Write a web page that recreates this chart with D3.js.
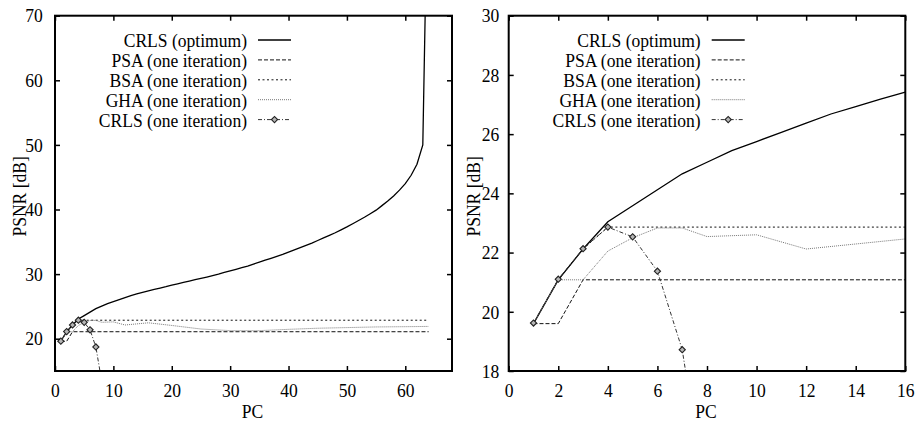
<!DOCTYPE html>
<html>
<head>
<meta charset="utf-8">
<script src="https://cdn.jsdelivr.net/npm/d3@7/dist/d3.min.js"></script>
<style>
body { margin: 0; background: #fff; }
svg text { font-family: "Liberation Serif", "Times New Roman", serif; font-size: 19.5px; fill: #000; }
</style>
</head>
<body>
<svg id="chart" width="917" height="421"></svg>
<script>
// PSNR vs number of principal components
const optPC = [1,2,3,4,5,6,7,8,9,10,11,12,13,14,15,16,17,18,19,20,21,22,23,24,25,26,27,28,29,30,31,32,
               33,34,35,36,37,38,39,40,41,42,43,44,45,46,47,48,49,50,51,52,53,54,55,56,57,58,59,60,61,62,63,64];
const optPSNR = [19.6,21.08,22.12,23.04,23.58,24.12,24.66,25.05,25.44,25.75,26.06,26.37,26.68,26.93,27.18,27.42,
                 27.63,27.84,28.05,28.3,28.5,28.72,28.93,29.13,29.33,29.55,29.78,30.0,30.25,30.5,30.75,31.0,
                 31.25,31.55,31.85,32.15,32.45,32.75,33.05,33.4,33.75,34.1,34.45,34.8,35.2,35.6,36.0,36.4,
                 36.85,37.3,37.8,38.3,38.8,39.35,39.9,40.6,41.3,42.1,43.0,44.0,45.3,47.0,50.0,100];
const psaPC = [1,2,3,64];
const psaPSNR = [19.6,19.6,21.08,21.08];
const bsaPC = [1,2,3,4,64];
const bsaPSNR = [19.6,21.08,22.12,22.86,22.86];
const ghaPC = [1,2,3,4,5,6,7,8,10,12,16,20,25,30,35,40,45,50,55,60,64];
const ghaPSNR = [19.6,21.08,21.08,22.05,22.5,22.83,22.83,22.54,22.6,22.12,22.46,22.05,21.5,21.25,21.25,21.45,21.62,21.72,21.82,21.86,21.9];
const crlsPC = [1,2,3,4,5,6,7,8];
const crlsPSNR = [19.62,21.1,22.13,22.86,22.53,21.37,18.72,13.4];

const seriesNames = ["CRLS (optimum)", "PSA (one iteration)", "BSA (one iteration)", "GHA (one iteration)", "CRLS (one iteration)"];

const leftXTicks = [0,10,20,30,40,50,60];
const leftYTicks = [20,30,40,50,60,70];
const rightXTicks = [0,2,4,6,8,10,12,14,16];
const rightYTicks = [18,20,22,24,26,28,30];

const SX = 0.9; // the original type is a bit condensed

const series = [
    { name: seriesNames[0], pc: optPC, v: optPSNR, stroke: "#000", width: 1.3, dash: null },
    { name: seriesNames[1], pc: psaPC, v: psaPSNR, stroke: "#111", width: 1, dash: "4,2" },
    { name: seriesNames[2], pc: bsaPC, v: bsaPSNR, stroke: "#111", width: 1, dash: "2,2.5" },
    { name: seriesNames[3], pc: ghaPC, v: ghaPSNR, stroke: "#777", width: 1, dash: "1,1" },
    { name: seriesNames[4], pc: crlsPC, v: crlsPSNR, stroke: "#333", width: 1, dash: "4,2,1,2", marker: true }
];

const panels = [
    { id: "l", x0: 55, x1: 452, xDom: [0, 68], xTicks: leftXTicks, yDom: [15, 70], yTicks: leftYTicks, yPad: 13.5 },
    { id: "r", x0: 508.7, x1: 905.3, xDom: [0, 16], xTicks: rightXTicks, yDom: [18, 30], yTicks: rightYTicks, yPad: 10.5 }
];
const plotTop = 15.7, plotBottom = 371;

const svg = d3.select("#chart");
const defs = svg.append("defs");
const diamond = d3.symbol(d3.symbolSquare, 19)();

function squeeze(sel) {
    sel.selectAll("text").attr("transform", `scale(${SX},1)`);
}

function addMarker(sel, cx, cy) {
    return sel.append("path")
        .attr("d", diamond)
        .attr("transform", `translate(${cx},${cy}) rotate(45)`)
        .attr("fill", "#b5b5b5")
        .attr("stroke", "#222")
        .attr("stroke-width", 1.1);
}

panels.forEach(p => {
    const x = d3.scaleLinear().domain(p.xDom).range([p.x0, p.x1]);
    const y = d3.scaleLinear().domain(p.yDom).range([plotBottom, plotTop]);

    defs.append("clipPath").attr("id", "clip-" + p.id)
        .append("rect").attr("x", p.x0).attr("y", plotTop).attr("width", p.x1 - p.x0).attr("height", plotBottom - plotTop);

    const g = svg.append("g");
    const plot = g.append("g").attr("clip-path", `url(#clip-${p.id})`);

    // data lines
    series.forEach(s => {
        const pts = s.pc.map((c, i) => [c, s.v[i]]);
        const line = d3.line().x(d => x(d[0])).y(d => y(d[1]));
        plot.append("path")
            .attr("d", line(pts))
            .attr("fill", "none")
            .attr("stroke", s.stroke)
            .attr("stroke-width", s.width)
            .attr("stroke-dasharray", s.dash);
        if (s.marker) {
            pts.forEach(d => addMarker(plot, x(d[0]), y(d[1])));
        }
    });

    // axes, ticks pointing inward on all four sides
    const xb = g.append("g").attr("transform", `translate(0,${plotBottom})`)
        .call(d3.axisBottom(x).tickValues(p.xTicks).tickSizeInner(-5).tickSizeOuter(0).tickPadding(12));
    const xt = g.append("g").attr("transform", `translate(0,${plotTop})`)
        .call(d3.axisTop(x).tickValues(p.xTicks).tickSizeInner(-5).tickSizeOuter(0).tickFormat(""));
    const yl = g.append("g").attr("transform", `translate(${p.x0},0)`)
        .call(d3.axisLeft(y).tickValues(p.yTicks).tickSizeInner(-5).tickSizeOuter(0).tickPadding(p.yPad));
    const yr = g.append("g").attr("transform", `translate(${p.x1},0)`)
        .call(d3.axisRight(y).tickValues(p.yTicks).tickSizeInner(-5).tickSizeOuter(0).tickFormat(""));
    [xb, xt, yl, yr].forEach(a => {
        a.attr("font-size", null).attr("font-family", null);
        a.select(".domain").remove();
        a.selectAll("line").attr("stroke", "#000").attr("stroke-width", 1.5);
        a.selectAll("text").attr("fill", "#000");
        squeeze(a);
    });

    g.append("rect")
        .attr("x", p.x0).attr("y", plotTop)
        .attr("width", p.x1 - p.x0).attr("height", plotBottom - plotTop)
        .attr("fill", "none").attr("stroke", "#000").attr("stroke-width", 2);

    // axis titles
    g.append("text")
        .attr("transform", `translate(${p.x0 - 29},${(plotTop + plotBottom) / 2 + 3}) rotate(-90) scale(${SX},1)`)
        .attr("text-anchor", "middle")
        .text("PSNR [dB]");
    g.append("text")
        .attr("transform", `translate(${(p.x0 + p.x1) / 2 - 1},417.5) scale(${SX},1)`)
        .attr("text-anchor", "middle")
        .text("PC");

    // legend
    const lg = g.append("g").attr("transform", `translate(${p.x0},40)`);
    series.forEach((s, i) => {
        const row = lg.append("g").attr("transform", `translate(0,${i * 19.9})`);
        row.append("text")
            .attr("transform", `translate(192,7) scale(${SX},1)`)
            .attr("text-anchor", "end")
            .text(s.name);
        row.append("line")
            .attr("x1", 203).attr("x2", 236)
            .attr("stroke", s.stroke)
            .attr("stroke-width", s.width)
            .attr("stroke-dasharray", s.dash);
        if (s.marker) addMarker(row, 219.5, 0);
    });
});
</script>
</body>
</html>
